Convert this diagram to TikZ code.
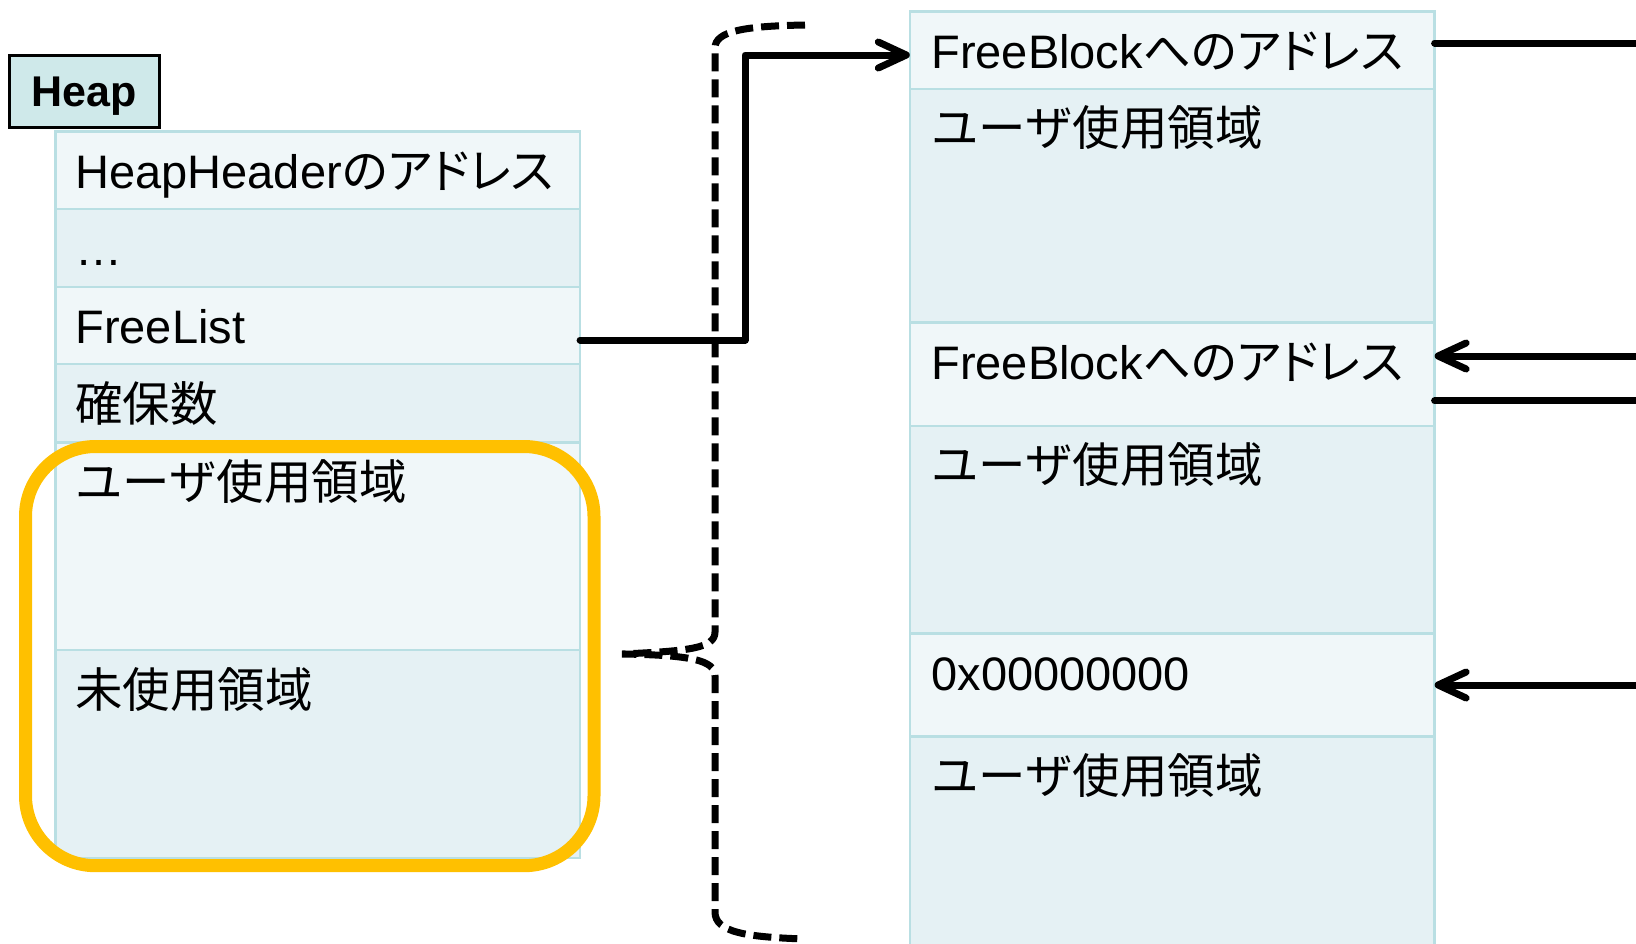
\documentclass[tikz,border=0pt]{standalone}
\usepackage{fontspec}
\setmainfont{Liberation Sans}
\newfontfamily\jp[Scale=1.01]{Noto Sans CJK JP}
\newfontfamily\jpp[Scale=1.01,RawFeature=+palt]{Noto Sans CJK JP}
\usetikzlibrary{arrows.meta}
\definecolor{cellA}{HTML}{F0F7F9}
\definecolor{cellB}{HTML}{E5F1F4}
\definecolor{cellline}{HTML}{B9DFE3}
\definecolor{heapfill}{HTML}{CFE9EA}
\definecolor{hlorange}{HTML}{FFC000}
\begin{document}
\begin{tikzpicture}[x=0.5pt,y=-0.5pt,
 cell/.style={draw=cellline, line width=1.2pt, anchor=north west, minimum width=262.4pt, inner sep=0pt, outer sep=0pt},
 lt/.style={cell, fill=cellA},
 dk/.style={cell, fill=cellB},
 txt/.style={anchor=base west, inner sep=0pt, font=\fontsize{23.5}{28}\selectfont},
 conn/.style={line width=3.5pt, line cap=round, line join=round},
 arr/.style={conn, -{Straight Barb[length=14pt,width=13pt,round]}},
 bracestyle/.style={line width=3.5pt, dash pattern=on 9pt off 4pt},
 ]
\useasboundingbox (0,0) rectangle (1636,943);
\clip (0,0) rectangle (1636,943);

% Heap label
\node[draw=black, line width=1.2pt, fill=heapfill, minimum width=75pt, minimum height=36pt, inner sep=0pt,
      text height=15.4pt, text depth=0pt,
      font=\bfseries\fontsize{21.5}{26}\selectfont] (heap) at (84.5,91.5) {Heap};

% left table
\node[lt, minimum height=38.6pt]  (L1) at (55.3,131.5) {};
\node[dk, minimum height=39.1pt]  (L2) at (55.3,208.7) {};
\node[lt, minimum height=38.6pt]  (L3) at (55.3,286.9) {};
\node[dk, minimum height=39.15pt] (L4) at (55.3,364.1) {};
\node[lt, minimum height=103.8pt] (L5) at (55.3,442.4) {};
\node[dk, minimum height=103.85pt](L6) at (55.3,650) {};

\node[txt] (tL1) at (75,188.5) {HeapHeader{\jpp のアドレス}};
\node[txt] (tL2) at (75,265.7) {…};
\node[txt] (tL3) at (75,343.9) {FreeList};
\node[txt] (tL4) at (75,421.1) {{\jp 確保数}};
\node[txt] (tL5) at (75,499.4) {{\jp ユーザ使用領域}};
\node[txt] (tL6) at (75,707) {{\jp 未使用領域}};

% right table
\node[lt, minimum height=38.6pt]  (R1) at (909.8,11.5) {};
\node[dk, minimum height=116.85pt](R2) at (909.8,88.7) {};
\node[lt, minimum height=51.65pt] (R3) at (909.8,322.4) {};
\node[dk, minimum height=103.8pt] (R4) at (909.8,425.7) {};
\node[lt, minimum height=51.65pt] (R5) at (909.8,633.3) {};
\node[dk, minimum height=120pt]   (R6) at (909.8,736.6) {};

\node[txt] (tR1) at (931,68.5) {FreeBlock{\jpp へのアドレス}};
\node[txt] (tR2) at (931,145.7) {{\jp ユーザ使用領域}};
\node[txt] (tR3) at (931,379.4) {FreeBlock{\jpp へのアドレス}};
\node[txt] (tR4) at (931,482.7) {{\jp ユーザ使用領域}};
\node[txt] (tR5) at (931,690.3) {0x00000000};
\node[txt] (tR6) at (931,793.6) {{\jp ユーザ使用領域}};

% orange highlight
\node[draw=hlorange, line width=6.5pt, rounded corners=35pt, minimum width=284.25pt, minimum height=209.6pt,
      anchor=north west, inner sep=0pt, outer sep=0pt] (sel) at (25.5,446.5) {};

% dashed brace
\draw[bracestyle] (805,25) .. controls (745,26) and (715,31) .. (715,48) -- (715,632)
  .. controls (715,648) and (690,651) .. (622,654)
  .. controls (690,655) and (715,660) .. (715,676) -- (715,912)
  .. controls (715,932) and (745,937) .. (805,939);

% connectors
\coordinate (flA) at (0,340);
\coordinate (flB) at (745,55);
\coordinate (e1) at (1636,43);
\coordinate (e2) at (1636,356);
\coordinate (e3) at (1636,400.7);
\coordinate (e4) at (1636,685);

\draw[arr] (L3.east |- flA) -| (flB) -- (R1.west |- flB);
\draw[conn] (R1.east |- e1) -- (e1);
\draw[arr] (e2) -- (R3.east |- e2);
\draw[conn] (R3.east |- e3) -- (e3);
\draw[arr] (e4) -- (R5.east |- e4);
\end{tikzpicture}
\end{document}
